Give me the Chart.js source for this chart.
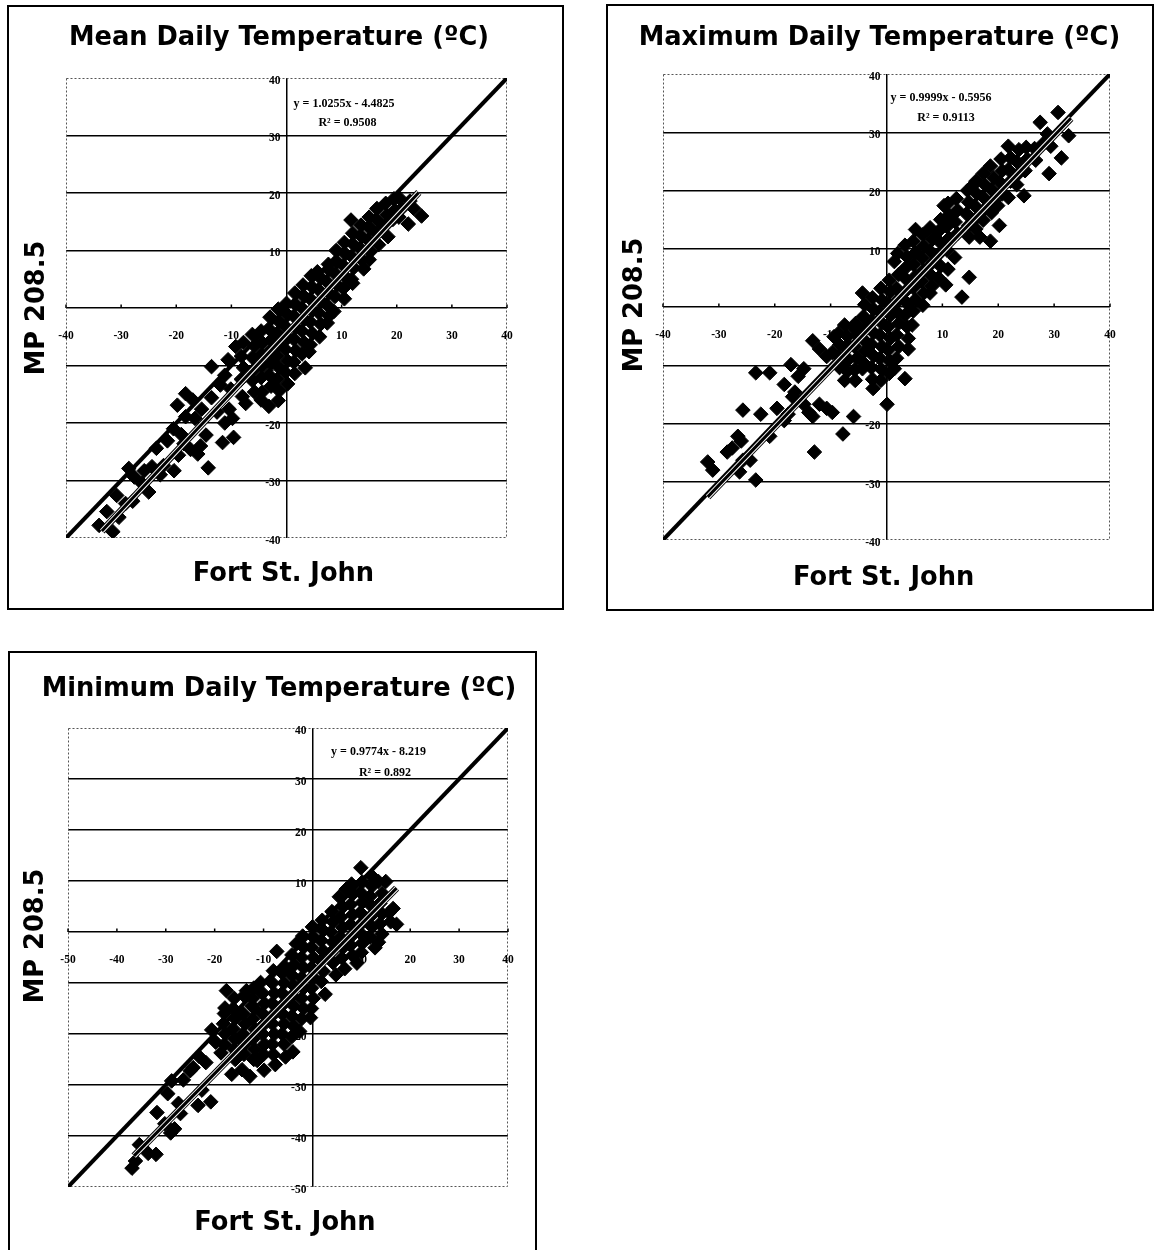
<!DOCTYPE html>
<html>
<head>
<meta charset="utf-8">
<title>MP 208.5 vs Fort St. John daily temperatures</title>
<script src="https://cdn.jsdelivr.net/npm/chart.js@4.4.1/dist/chart.umd.min.js"></script>
<style>
html,body{margin:0;padding:0;background:#fff;}
body{position:relative;width:1156px;height:1250px;overflow:hidden;}
canvas{position:absolute;}
.box{position:absolute;border:2px solid #000;box-sizing:border-box;pointer-events:none;}
.lbl{position:absolute;white-space:nowrap;font-family:"DejaVu Sans",Verdana,sans-serif;font-weight:bold;font-size:25.7px;line-height:1;color:#000;transform:translate(-50%,-50%);}
.ylbl{transform:translate(-50%,-50%) rotate(-90deg);}
.eq{position:absolute;white-space:nowrap;font-family:"Liberation Serif","Times New Roman",serif;font-weight:bold;font-size:12px;line-height:1;color:#000;transform:translate(-50%,-50%);}
</style>
</head>
<body>
<script>
// ---------------- data ----------------
const chartTitles = ["Mean Daily Temperature (\u00BAC)", "Maximum Daily Temperature (\u00BAC)", "Minimum Daily Temperature (\u00BAC)"];
const xAxisTitle = "Fort St. John";
const yAxisTitle = "MP 208.5";

const meanTicks = [-40, -30, -20, -10, 10, 20, 30, 40];
const maxTicks = [-40, -30, -20, -10, 10, 20, 30, 40];
const minTicks = [-50, -40, -30, -20, -10, 10, 20, 30, 40];

const meanEquation = ["y = 1.0255x - 4.4825", "R\u00B2 = 0.9508"];
const maxEquation = ["y = 0.9999x - 0.5956", "R\u00B2 = 0.9113"];
const minEquation = ["y = 0.9774x - 8.219", "R\u00B2 = 0.892"];

const meanIdentity = [[-40, -40], [40, 40]];
const maxIdentity = [[-40, -40], [40, 40]];
const minIdentity = [[-50, -50], [40, 40]];

const meanTrend = [[-33.5, -38.8], [24.0, 20.1]];
const maxTrend = [[-32.0, -32.6], [33.0, 32.4]];
const minTrend = [[-36.5, -43.9], [17.2, 8.6]];

const meanPoints = [
[-34.0,-37.8],[-31.5,-38.9],[-32.6,-35.4],[-30.4,-36.4],[-29.2,-34.0],[-30.8,-32.6],[-27.9,-33.6],[-25.0,-32.0],
[-26.2,-30.5],[-27.6,-29.4],[-25.8,-28.3],[-28.6,-27.9],[-24.4,-27.6],[-22.9,-29.0],[-22.3,-27.4],[-23.6,-24.4],
[-21.6,-23.1],[-20.4,-28.3],[-19.6,-25.6],[-18.6,-23.6],[-19.1,-22.0],[-20.5,-21.0],[-17.4,-24.6],[-16.1,-25.4],
[-15.6,-24.0],[-14.6,-22.1],[-14.2,-27.8],[-11.6,-23.4],[-9.6,-22.5],[-18.3,-18.9],[-19.8,-16.9],[-18.3,-14.9],
[-16.6,-19.2],[-15.4,-17.6],[-17.0,-16.0],[-13.6,-15.6],[-12.6,-18.1],[-10.4,-17.6],[-9.8,-19.2],[-11.2,-20.0],
[-13.6,-10.2],[-11.2,-11.7],[-10.1,-14.1],[-12.0,-13.4],[-9.2,-6.7],[-10.6,-9.0],
[-7.8,-6.0],[-8.2,-8.4],[-7.8,-10.4],[-8.2,-12.4],[-8.0,-15.4],[-7.4,-16.6],
[-6.2,-4.6],[-5.8,-6.6],[-6.2,-8.6],[-5.8,-10.6],[-6.2,-12.6],[-5.8,-14.6],
[-4.6,-4.0],[-4.4,-6.0],[-4.6,-8.1],[-4.4,-10.1],[-4.6,-12.1],[-4.4,-14.6],[-4.6,-16.0],
[-3.0,-1.6],[-3.2,-3.6],[-2.8,-5.6],[-3.2,-7.6],[-2.8,-9.6],[-3.2,-11.6],[-2.8,-13.6],[-3.2,-17.1],
[-1.5,-0.2],[-1.3,-2.4],[-1.7,-4.4],[-1.3,-6.4],[-1.7,-8.4],[-1.3,-10.4],[-1.7,-12.4],[-1.3,-14.4],[-1.5,-16.1],
[0.0,0.8],[0.2,-1.2],[-0.2,-3.2],[0.2,-5.2],[-0.2,-7.2],[0.2,-9.2],[-0.2,-11.2],[0.2,-13.2],
[1.5,2.6],[1.7,0.6],[1.3,-1.4],[1.7,-3.4],[1.3,-5.4],[1.7,-7.4],[1.3,-9.4],[1.5,-11.4],
[3.0,4.0],[3.2,2.0],[2.8,0.0],[3.2,-2.0],[2.8,-4.0],[3.2,-6.0],[2.8,-8.0],[3.4,-10.4],
[4.5,5.6],[4.7,3.6],[4.3,1.6],[4.7,-0.4],[4.3,-2.4],[4.7,-4.4],[4.3,-6.4],[4.1,-7.6],
[5.6,6.3],[6.2,5.2],[5.8,3.2],[6.2,1.2],[5.8,-0.8],[6.2,-2.8],[6.0,-5.0],
[7.6,7.6],[7.7,6.6],[7.3,4.6],[7.7,2.6],[7.3,0.6],[7.7,-1.4],[7.4,-2.6],
[9.0,10.0],[9.2,8.0],[8.8,6.0],[9.2,4.0],[8.8,2.0],[8.6,-0.6],
[10.5,11.4],[10.7,9.4],[10.3,7.4],[10.7,5.4],[10.3,3.4],[10.5,1.6],
[12.0,13.0],[12.2,11.0],[11.8,9.0],[12.2,7.0],[11.8,5.0],[12.0,4.3],[11.7,15.3],
[13.5,14.4],[13.7,12.4],[13.3,10.4],[13.7,8.4],[14.0,6.8],
[15.0,15.8],[15.2,13.8],[14.8,11.8],[15.2,9.8],[15.0,8.4],
[16.4,17.3],[16.7,15.0],[16.3,13.0],[16.7,11.0],
[18.0,18.2],[18.2,16.2],[17.8,14.2],[18.4,12.4],
[19.5,19.0],[19.7,17.0],[19.3,15.4],
[20.5,19.1],[21.0,17.4],[22.1,14.6],[23.1,17.3],[24.5,16.0],[22.4,18.6],[20.4,15.8]
];

const maxPoints = [
[-32.0,-26.6],[-31.1,-28.0],[-28.5,-24.9],[-27.6,-24.2],[-26.6,-22.2],[-26.0,-23.0],[-26.3,-28.3],[-25.7,-26.3],
[-24.4,-26.3],[-23.4,-29.7],[-25.7,-17.7],[-22.5,-18.4],[-20.9,-22.2],[-23.4,-11.3],[-20.9,-11.3],[-19.6,-17.4],
[-18.3,-19.5],[-17.6,-18.4],[-18.3,-13.3],[-17.1,-9.9],[-14.8,-10.6],[-15.8,-11.9],[-16.4,-14.6],[-16.8,-15.4],
[-14.8,-16.7],[-13.9,-18.1],[-13.2,-18.8],[-12.0,-16.7],[-10.7,-17.4],[-9.7,-18.1],[-12.9,-24.9],[-7.8,-21.8],
[-5.9,-18.8],[-13.2,-5.8],[-12.0,-7.2],[-10.7,-8.5],[-9.7,-7.8],[-8.2,-9.9],[-9.4,-5.1],[-7.5,-3.1],
[-6.9,-6.5],[-5.6,-3.8],[-7.5,-12.6],[-5.6,-12.6],[-4.3,-10.6],[-2.4,-14.0],[0.1,-16.7],[3.3,-12.3],
[-8.6,-4.5],[-8.4,-6.5],[-8.6,-8.5],[-8.4,-10.4],
[-7.0,-5.0],[-7.2,-7.0],[-6.8,-9.0],[-7.0,-11.0],
[-5.5,-2.8],[-5.3,-4.8],[-5.7,-6.8],[-5.3,-8.8],[-5.7,-10.8],
[-4.3,2.4],[-3.9,0.4],[-4.1,-1.6],[-3.9,-3.6],[-4.1,-5.6],[-3.9,-7.6],[-4.1,-9.6],
[-2.5,1.6],[-2.3,-0.4],[-2.7,-2.4],[-2.3,-4.4],[-2.7,-6.4],[-2.3,-8.4],[-2.7,-10.4],[-2.5,-12.4],
[-1.0,3.2],[-0.8,1.2],[-1.2,-0.8],[-0.8,-2.8],[-1.2,-4.8],[-0.8,-6.8],[-1.2,-8.8],[-0.8,-10.8],[-1.0,-12.6],
[0.5,4.6],[0.7,2.6],[0.3,0.6],[0.7,-1.4],[0.3,-3.4],[0.7,-5.4],[0.3,-7.4],[0.7,-9.4],[0.5,-11.4],
[1.4,7.8],[2.0,9.2],[2.2,5.6],[1.8,3.2],[2.2,1.2],[1.8,-0.8],[2.2,-2.8],[1.8,-4.8],[2.2,-6.8],[1.8,-8.8],[1.4,-10.6],
[3.3,10.6],[3.7,8.6],[3.3,6.6],[3.7,4.6],[3.3,2.6],[3.7,0.6],[3.3,-1.4],[3.7,-3.4],[3.9,-5.4],[3.9,-7.2],
[5.2,13.3],[4.8,11.3],[5.2,9.3],[4.8,7.3],[5.2,5.3],[4.8,3.3],[5.2,1.3],[4.8,-0.7],[4.6,-3.1],
[6.5,12.4],[6.7,10.4],[6.3,8.4],[6.7,6.4],[6.3,4.4],[6.7,2.4],[6.5,0.3],
[7.8,13.6],[8.2,11.6],[7.8,9.6],[8.2,7.6],[7.8,5.6],[8.2,3.6],[7.8,2.4],
[10.3,17.4],[9.7,15.0],[9.3,13.0],[9.7,11.0],[9.3,9.0],[9.7,7.0],[9.3,5.0],
[11.0,17.8],[11.2,15.8],[10.8,13.8],[11.2,11.8],[10.8,9.8],[11.0,6.5],[10.6,3.8],
[12.5,18.6],[12.7,16.6],[12.3,14.6],[12.7,12.6],[12.2,8.5],[13.5,1.7],
[14.5,20.0],[14.7,18.0],[14.3,16.0],[14.7,14.0],[14.8,12.0],[14.8,5.1],
[15.4,20.8],[16.0,21.6],[16.2,19.4],[15.8,17.4],[16.2,15.4],[16.0,13.4],
[17.3,22.9],[17.7,20.9],[17.3,18.9],[17.7,16.9],[17.3,14.9],[16.7,12.0],
[18.6,24.2],[19.2,22.2],[18.8,20.2],[19.2,18.2],[18.8,16.2],[18.6,11.3],
[20.5,25.4],[20.7,23.4],[20.3,21.4],[20.7,19.4],[19.9,17.4],[20.2,14.0],
[21.8,27.6],[22.2,25.6],[21.8,23.6],[22.2,21.6],[21.8,18.8],
[23.7,27.0],[23.3,25.0],[23.7,23.0],[23.3,21.0],
[25.0,27.4],[25.2,25.4],[24.8,23.4],[24.6,19.1],
[26.5,27.2],[26.7,25.2],
[27.5,31.7],[28.0,28.0],[28.8,29.7],[29.4,27.6],[29.1,22.9],[30.7,33.4],[31.3,25.6],[32.6,29.4]
];

const minPoints = [
[-36.9,-46.3],[-36.2,-44.9],[-35.4,-41.7],[-33.6,-43.4],[-32.0,-43.6],[-31.8,-35.4],[-30.2,-37.6],[-29.0,-39.4],
[-28.2,-38.6],[-29.6,-31.7],[-28.8,-29.2],[-27.4,-33.6],[-27.0,-35.6],[-26.4,-29.0],[-25.0,-27.2],[-24.4,-26.6],
[-23.4,-34.0],[-22.6,-31.0],[-20.8,-33.3],[-21.8,-25.6],[-23.2,-24.4],[-20.6,-19.2],[-19.8,-21.6],[-18.7,-23.7],
[-17.6,-11.5],[-17.9,-14.9],[-16.5,-27.9],[-15.8,-25.0],[-14.3,-21.4],[-13.5,-11.5],[-12.4,-14.5],[-7.3,-3.8],
[-12.8,-28.3],[-9.9,-27.1],[-11.3,-25.2],[-5.5,-24.5],
[-18.0,-16.0],[-18.2,-18.0],[-17.8,-20.0],[-18.0,-22.0],
[-16.0,-13.0],[-16.2,-15.0],[-15.8,-17.0],[-16.2,-19.0],[-15.8,-21.0],[-16.0,-23.0],
[-14.0,-12.5],[-14.2,-16.0],[-13.8,-18.0],[-14.2,-20.0],[-13.8,-22.0],[-14.0,-24.0],[-14.4,-27.0],
[-12.0,-11.0],[-12.2,-13.0],[-11.8,-15.0],[-12.2,-17.0],[-11.8,-19.0],[-12.2,-21.0],[-11.8,-23.0],[-12.0,-25.0],
[-10.6,-9.9],[-10.2,-12.0],[-9.8,-14.0],[-10.2,-16.0],[-9.8,-18.0],[-10.2,-20.0],[-9.8,-22.0],[-10.0,-24.0],
[-8.0,-7.6],[-8.2,-10.0],[-7.8,-12.0],[-8.2,-14.0],[-7.8,-16.0],[-8.2,-18.0],[-7.8,-20.0],[-8.2,-22.0],[-8.0,-24.0],[-7.6,-26.0],
[-5.5,-6.9],[-6.2,-8.0],[-5.8,-10.0],[-6.2,-12.0],[-5.8,-14.0],[-6.2,-16.0],[-5.8,-18.0],[-6.2,-20.0],[-5.8,-22.0],
[-3.3,-2.3],[-4.2,-4.5],[-3.8,-6.5],[-4.2,-8.5],[-3.8,-10.5],[-4.2,-12.5],[-3.8,-14.5],[-4.2,-16.5],[-3.8,-18.5],[-4.2,-20.5],[-4.0,-23.5],
[-2.0,-0.8],[-1.8,-3.0],[-2.2,-5.0],[-1.8,-7.0],[-2.2,-9.0],[-1.8,-11.0],[-2.2,-13.0],[-1.8,-15.0],[-2.2,-17.0],[-2.6,-19.5],
[0.0,1.0],[0.2,-1.0],[-0.2,-3.0],[0.2,-5.0],[-0.2,-7.0],[0.2,-9.0],[-0.2,-11.0],[0.2,-13.0],[-0.2,-15.0],[-0.4,-16.8],
[2.0,2.3],[2.2,0.3],[1.8,-1.7],[2.2,-3.7],[1.8,-5.7],[2.2,-7.7],[1.8,-9.7],[2.6,-12.2],
[4.0,4.0],[4.2,2.0],[3.8,0.0],[4.2,-2.0],[3.8,-4.0],[4.2,-6.0],[4.8,-8.4],
[6.9,8.4],[5.5,6.9],[6.2,4.9],[5.8,2.9],[6.2,0.9],[5.8,-1.1],[6.2,-3.1],[6.0,-5.1],[6.6,-7.2],
[8.0,9.4],[8.2,7.4],[7.8,5.4],[8.2,3.4],[7.8,1.4],[8.2,-0.6],[7.8,-2.6],[8.2,-4.6],[9.1,-6.1],
[9.9,12.6],[10.2,9.8],[9.8,7.8],[10.2,5.8],[9.8,3.8],[10.2,1.8],[9.8,-0.2],[10.2,-2.2],[10.0,-4.0],
[12.1,11.0],[12.2,9.0],[11.8,7.0],[12.2,5.0],[11.8,3.0],[12.2,1.0],[11.8,-1.0],[12.8,-3.1],
[13.5,9.9],[14.3,7.6],[13.8,5.6],[14.2,3.6],[13.8,1.6],[14.2,-0.4],[13.5,-2.0],
[15.0,9.9],[15.7,3.8],[16.5,4.6],[16.0,2.0],[17.2,1.5]
];

// ---------------- layout (page pixels) ----------------
const panels = [
  { title: chartTitles[0], points: meanPoints, trend: meanTrend, identity: meanIdentity, eq: meanEquation,
    xTicks: meanTicks, yTicks: meanTicks, min: -40, max: 40,
    box: {l: 7, t: 5, r: 564, b: 610}, plot: {l: 66, t: 78, r: 507, b: 538},
    titlePos: [279, 37], yLabPos: [35.5, 307.6], xLabPos: [283.5, 573], eqPos: [[344, 103], [347.5, 122]] },
  { title: chartTitles[1], points: maxPoints, trend: maxTrend, identity: maxIdentity, eq: maxEquation,
    xTicks: maxTicks, yTicks: maxTicks, min: -40, max: 40,
    box: {l: 606, t: 4, r: 1154, b: 611}, plot: {l: 663, t: 74, r: 1110, b: 540},
    titlePos: [879.4, 37], yLabPos: [634, 305], xLabPos: [883.7, 577], eqPos: [[941, 97], [946, 117]] },
  { title: chartTitles[2], points: minPoints, trend: minTrend, identity: minIdentity, eq: minEquation,
    xTicks: minTicks, yTicks: minTicks, min: -50, max: 40,
    box: {l: 8, t: 651, r: 537, b: 1262}, plot: {l: 68, t: 728, r: 508, b: 1187},
    titlePos: [279, 688], yLabPos: [35, 935.6], xLabPos: [285, 1222], eqPos: [[378.5, 751], [385, 772]] }
];

const axisDecor = {
  id: 'axisDecor',
  beforeDatasetsDraw(chart, args, opts) {
    const {ctx, chartArea: a, scales: {x, y}} = chart;
    ctx.save();
    ctx.strokeStyle = '#555';
    ctx.lineWidth = 1;
    ctx.setLineDash([2, 2]);
    ctx.strokeRect(Math.round(a.left) + 0.5, Math.round(a.top) + 0.5, Math.round(a.width) - 1, Math.round(a.height) - 1);
    ctx.setLineDash([]);
    const x0 = x.getPixelForValue(0);
    const y0 = y.getPixelForValue(0);
    ctx.fillStyle = '#000';
    ctx.font = 'bold 11.5px "Liberation Serif", "Times New Roman", serif';
    ctx.textAlign = 'center';
    ctx.textBaseline = 'middle';
    opts.xTicks.forEach(v => {
      const px = x.getPixelForValue(v);
      ctx.fillRect(px - 0.75, y0 - 3.5, 1.5, 3.5);
      ctx.fillText(String(v), px, y0 + 28);
    });
    ctx.textAlign = 'right';
    opts.yTicks.forEach(v => {
      const py = y.getPixelForValue(v);
      ctx.fillText(String(v), x0 - 6, py + 3);
    });
    ctx.restore();
  }
};

function addText(cls, text, pos) {
  const d = document.createElement('div');
  d.className = cls;
  d.textContent = text;
  d.style.left = pos[0] + 'px';
  d.style.top = pos[1] + 'px';
  document.body.appendChild(d);
}

const toXY = arr => arr.map(p => ({x: p[0], y: p[1]}));

panels.forEach(p => {
  const w = p.box.r - p.box.l, h = p.box.b - p.box.t;
  const cv = document.createElement('canvas');
  cv.width = w; cv.height = h;
  cv.style.left = p.box.l + 'px'; cv.style.top = p.box.t + 'px';
  cv.style.width = w + 'px'; cv.style.height = h + 'px';
  document.body.appendChild(cv);

  const box = document.createElement('div');
  box.className = 'box';
  box.style.left = p.box.l + 'px'; box.style.top = p.box.t + 'px';
  box.style.width = w + 'px'; box.style.height = h + 'px';
  document.body.appendChild(box);

  const pad = {left: p.plot.l - p.box.l, top: p.plot.t - p.box.t, right: p.box.r - p.plot.r, bottom: p.box.b - p.plot.b};
  const trendData = toXY(p.trend);
  const lineDs = (data, color, width, order) => ({
    data, showLine: true, borderColor: color, borderWidth: width, pointRadius: 0, fill: false,
    borderCapStyle: 'butt', order
  });
  new Chart(cv, {
    type: 'scatter',
    data: {
      datasets: [
        { data: toXY(p.points), pointStyle: 'rectRot', pointRadius: 7.3, backgroundColor: '#000',
          borderColor: '#000', borderWidth: 1, order: 5 },
        lineDs(toXY(p.identity), '#000', 4, 4),
        lineDs(trendData, '#000', 7, 3),
        lineDs(trendData, '#fff', 5, 2),
        lineDs(trendData, '#000', 3, 1)
      ]
    },
    options: {
      responsive: false, animation: false, events: [],
      devicePixelRatio: 1,
      layout: {padding: pad},
      plugins: {legend: {display: false}, tooltip: {enabled: false}, title: {display: false},
        axisDecor: {xTicks: p.xTicks, yTicks: p.yTicks}},
      scales: {
        x: {type: 'linear', min: p.min, max: p.max,
          ticks: {display: false, stepSize: 10},
          grid: {drawTicks: false, lineWidth: 1.5,
            color: c => (c.tick && c.tick.value === 0) ? '#000' : 'rgba(0,0,0,0)'},
          border: {display: false}},
        y: {type: 'linear', min: p.min, max: p.max,
          ticks: {display: false, stepSize: 10},
          grid: {drawTicks: false, lineWidth: 1.5,
            color: c => (c.tick && (c.tick.value === p.min || c.tick.value === p.max)) ? 'rgba(0,0,0,0)' : '#000'},
          border: {display: false}}
      }
    },
    plugins: [axisDecor]
  });

  addText('lbl', p.title, p.titlePos);
  addText('lbl ylbl', yAxisTitle, p.yLabPos);
  addText('lbl', xAxisTitle, p.xLabPos);
  addText('eq', p.eq[0], p.eqPos[0]);
  addText('eq', p.eq[1], p.eqPos[1]);
});
</script>
</body>
</html>
